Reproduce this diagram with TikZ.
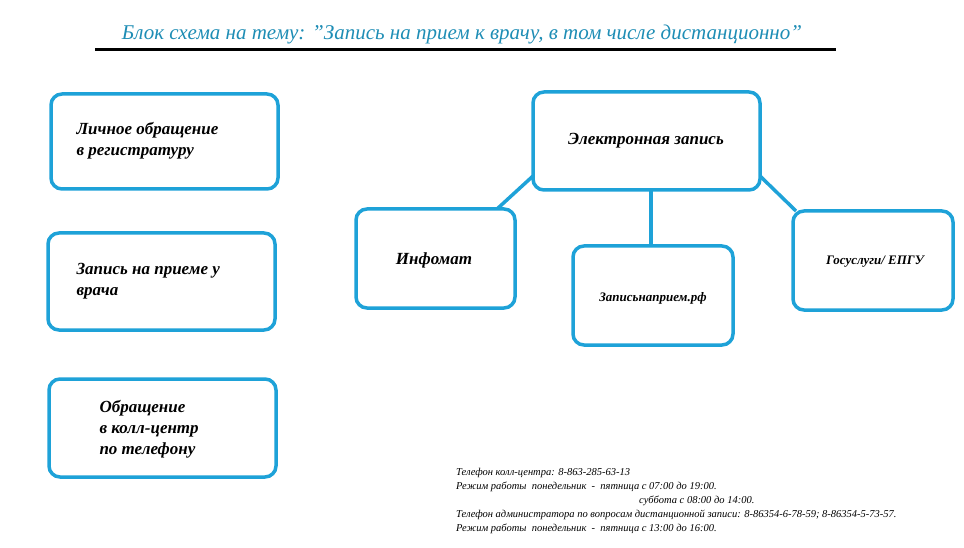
\documentclass[tikz,border=0pt]{standalone}
\usepackage{fontspec}
\setmainfont{Liberation Serif}
\definecolor{bb}{HTML}{1EA2D8}
\definecolor{tt}{HTML}{1E8DB5}
\begin{document}
\begin{tikzpicture}[x=1pt,y=-1pt,
 box/.style={draw=bb,line width=3.5pt,rounded corners=11pt,fill=white},
 lbl/.style={font=\bfseries\itshape\fontsize{17}{21}\selectfont,align=left,anchor=west},
 lnk/.style={draw=bb,line width=3.5pt},
 small/.style={font=\itshape\fontsize{10.5}{12}\selectfont,anchor=west,inner sep=0}]
\useasboundingbox (0,0) rectangle (964,548);
\node[font=\itshape\fontsize{21}{24}\selectfont,text=tt] (title) at (462,34) {Блок схема на тему: "Запись на прием к врачу, в том числе дистанционно"};
\draw[line width=3pt] (95,50) -- (836,50);
\draw[box] (51,94) rectangle (278,189);
\node[lbl] (a) at (73,141) {Личное обращение\\в регистратуру};
\draw[box] (48,233) rectangle (275,330);
\node[lbl] (b) at (73,281) {Запись на приеме у\\врача};
\draw[box] (49,379) rectangle (276,477);
\node[lbl] (c) at (96,429) {Обращение\\в колл-центр\\по телефону};
\coordinate (e1) at (533,176); \coordinate (i1) at (497,209);
\coordinate (e2) at (651,190); \coordinate (z1) at (651,246);
\coordinate (e3) at (760,176); \coordinate (g1) at (796,211);
\draw[lnk] (e1)--(i1); \draw[lnk] (e2)--(z1); \draw[lnk] (e3)--(g1);
\draw[box] (533,92) rectangle (760,190);
\node[lbl,anchor=center] (e) at (646,141) {Электронная запись};
\draw[box] (356,209) rectangle (515,308);
\node[lbl,anchor=center] (i) at (434,260) {Инфомат};
\draw[box] (573,246) rectangle (733,345);
\node[lbl,anchor=center,font=\bfseries\itshape\fontsize{13}{15}\selectfont] (z) at (653,298) {Записьнаприем.рф};
\draw[box] (793,211) rectangle (953,310);
\node[lbl,anchor=center,font=\bfseries\itshape\fontsize{13}{15}\selectfont] (g) at (875,262) {Госуслуги/ ЕПГУ};
\node[small] (t1) at (456,473) {Телефон колл-центра: 8-863-285-63-13};
\node[small] (t2) at (456,487) {Режим работы\ \ понедельник\ \ -\ \ пятница с 07:00 до 19:00.};
\node[small] (t3) at (639,501) {суббота с 08:00 до 14:00.};
\node[small] (t4) at (456,515) {Телефон администратора по вопросам дистанционной записи: 8-86354-6-78-59; 8-86354-5-73-57.};
\node[small] (t5) at (456,529) {Режим работы\ \ понедельник\ \ -\ \ пятница с 13:00 до 16:00.};
\end{tikzpicture}
\end{document}
